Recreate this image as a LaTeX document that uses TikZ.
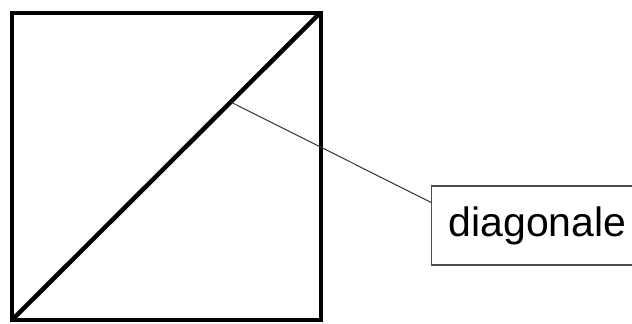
\documentclass[tikz,border=0pt]{standalone}
\usepackage{fontspec}
\setmainfont{Liberation Sans}
\usepackage{tikz}

\begin{document}
\begin{tikzpicture}[x=1pt,y=1pt]
  \useasboundingbox (0,0) rectangle (632,324);
  \draw[line width=4.5pt] (12,4) rectangle (321,311);
  \draw[line width=4.5pt] (12,4) -- (320,311) coordinate[pos=0.71] (mid);
  \node[draw=black!70, line width=1.2pt, anchor=west, minimum height=79pt, text width=190pt,
        inner xsep=17pt, font=\fontsize{41}{41}\selectfont] (label) at (431,98.5) {diagonale};
  \draw[black!80, line width=1pt] (mid) -- ([yshift=-17pt]label.north west);
\end{tikzpicture}
\end{document}
